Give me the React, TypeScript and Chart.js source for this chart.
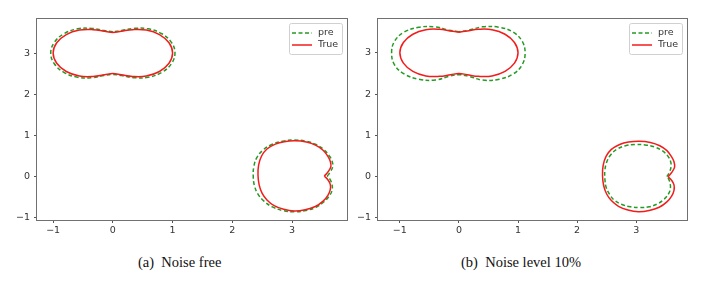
import React, { useEffect, useRef } from 'react';
import { Chart, registerables } from 'chart.js';

Chart.register(...registerables);

type Pt = [number, number];

// ---- data ----
const X_TICKS = [-1, 0, 1, 2, 3];
const Y_TICKS = [-1, 0, 1, 2, 3];
const SERIES_PRE = 'pre';
const SERIES_TRUE = 'True';
const CAPTION_A = '(a)  Noise free';
const CAPTION_B = '(b)  Noise level 10%';

// true boundary (same in both panels)
const TRUE_PEANUT: Pt[] = [
  [0.0, 3.5], [-0.14, 3.53], [-0.33, 3.57], [-0.56, 3.56], [-0.78, 3.45], [-0.94, 3.25],
  [-1.0, 3.0], [-0.94, 2.75], [-0.78, 2.55], [-0.56, 2.44], [-0.33, 2.43], [-0.14, 2.47],
  [0.0, 2.5], [0.14, 2.47], [0.33, 2.43], [0.56, 2.44], [0.78, 2.55], [0.94, 2.75],
  [1.0, 3.0], [0.94, 3.25], [0.78, 3.45], [0.56, 3.56], [0.33, 3.57], [0.14, 3.53], [0.0, 3.5],
];
const TRUE_APPLE: Pt[] = [
  [3.54, 0.0], [3.6, 0.1], [3.65, 0.23], [3.64, 0.36], [3.6, 0.48], [3.52, 0.63], [3.4, 0.75],
  [3.24, 0.83], [3.05, 0.86], [2.87, 0.84], [2.72, 0.78], [2.58, 0.66], [2.49, 0.49], [2.44, 0.27],
  [2.43, 0.02], [2.45, -0.22], [2.5, -0.42], [2.58, -0.58], [2.7, -0.72], [2.86, -0.81], [3.04, -0.85],
  [3.22, -0.82], [3.39, -0.74], [3.52, -0.61], [3.6, -0.47], [3.64, -0.33], [3.64, -0.2], [3.6, -0.09],
  [3.54, 0.0],
];

// (a) noise free reconstruction
const PRE_PEANUT_A: Pt[] = [
  [0.0, 3.52], [-0.15, 3.55], [-0.35, 3.6], [-0.59, 3.59], [-0.82, 3.47], [-0.98, 3.26],
  [-1.04, 3.0], [-0.98, 2.74], [-0.82, 2.53], [-0.59, 2.41], [-0.35, 2.4], [-0.15, 2.45],
  [0.0, 2.48], [0.15, 2.45], [0.35, 2.4], [0.59, 2.41], [0.82, 2.53], [0.98, 2.74],
  [1.04, 3.0], [0.98, 3.26], [0.82, 3.47], [0.59, 3.59], [0.35, 3.6], [0.15, 3.55], [0.0, 3.52],
];
const PRE_APPLE_A: Pt[] = [
  [3.59, 0.0], [3.64, 0.1], [3.68, 0.23], [3.67, 0.37], [3.62, 0.5], [3.53, 0.65], [3.4, 0.77],
  [3.23, 0.85], [3.04, 0.88], [2.84, 0.85], [2.66, 0.77], [2.51, 0.63], [2.41, 0.45], [2.36, 0.23],
  [2.35, 0.0], [2.37, -0.23], [2.43, -0.44], [2.53, -0.61], [2.67, -0.75], [2.85, -0.84], [3.04, -0.87],
  [3.23, -0.84], [3.4, -0.76], [3.53, -0.63], [3.62, -0.49], [3.67, -0.35], [3.67, -0.21], [3.64, -0.09],
  [3.59, 0.0],
];

// (b) 10% noise reconstruction
const PRE_PEANUT_B: Pt[] = [
  [0.0, 3.51], [-0.17, 3.55], [-0.4, 3.63], [-0.68, 3.62], [-0.93, 3.5], [-1.09, 3.28],
  [-1.14, 3.0], [-1.09, 2.71], [-0.93, 2.49], [-0.68, 2.36], [-0.4, 2.34], [-0.17, 2.43],
  [0.0, 2.47], [0.17, 2.43], [0.4, 2.34], [0.68, 2.36], [0.92, 2.49], [1.07, 2.71],
  [1.12, 3.0], [1.07, 3.28], [0.92, 3.5], [0.68, 3.62], [0.4, 3.63], [0.17, 3.55], [0.0, 3.51],
];
const PRE_APPLE_B: Pt[] = [
  [3.52, 0.0], [3.56, 0.1], [3.59, 0.24], [3.58, 0.38], [3.53, 0.51], [3.44, 0.63], [3.31, 0.72],
  [3.15, 0.77], [2.98, 0.78], [2.82, 0.75], [2.68, 0.67], [2.57, 0.53], [2.5, 0.35], [2.47, 0.15],
  [2.47, -0.05], [2.49, -0.25], [2.55, -0.43], [2.63, -0.57], [2.75, -0.67], [2.9, -0.73], [3.06, -0.75],
  [3.22, -0.73], [3.36, -0.66], [3.47, -0.55], [3.55, -0.41], [3.58, -0.27], [3.57, -0.14], [3.55, -0.06],
  [3.52, 0.0],
];

// ---- styling ----
const GREEN = '#259a25';
const RED = '#f21c1c';
const SPINE = '#707070';
const TEXT = '#333333';
const TICK_FONT = { family: 'DejaVu Sans', size: 9.5 };

const fmt = (v: number) => (v < 0 ? '\u2212' + Math.abs(v) : String(v));

const framePlugin = {
  id: 'frame',
  afterDatasetsDraw(chart: any) {
    const { ctx, chartArea: a } = chart;
    ctx.save();
    ctx.strokeStyle = SPINE;
    ctx.lineWidth = 1;
    const l = Math.round(a.left) - 0.5;
    const t = Math.round(a.top) - 0.5;
    const r = Math.round(a.right) + 0.5;
    const b = Math.round(a.bottom) + 0.5;
    ctx.strokeRect(l, t, r - l, b - t);
    ctx.restore();
  },
};

const legendPlugin = {
  id: 'mplLegend',
  afterDraw(chart: any) {
    const { ctx, chartArea: a } = chart;
    const seen: string[] = [];
    const items: any[] = [];
    chart.data.datasets.forEach((d: any) => {
      if (!seen.includes(d.label)) {
        seen.push(d.label);
        items.push(d);
      }
    });
    const w = 53;
    const h = 31;
    const x0 = Math.round(a.right) - 5 - w;
    const y0 = Math.round(a.top) + 4;
    ctx.save();
    ctx.beginPath();
    ctx.roundRect(x0 + 0.5, y0 + 0.5, w, h, 2);
    ctx.fillStyle = 'rgba(255,255,255,0.8)';
    ctx.fill();
    ctx.strokeStyle = '#d0d0d0';
    ctx.lineWidth = 1;
    ctx.stroke();
    items.forEach((d, i) => {
      const yy = y0 + 10 + i * 12;
      ctx.beginPath();
      ctx.setLineDash(d.borderDash || []);
      ctx.strokeStyle = d.borderColor;
      ctx.lineWidth = d.borderWidth;
      ctx.moveTo(x0 + 3, yy);
      ctx.lineTo(x0 + 23, yy);
      ctx.stroke();
      ctx.setLineDash([]);
      ctx.fillStyle = TEXT;
      ctx.font = '9.5px "DejaVu Sans"';
      ctx.textBaseline = 'middle';
      ctx.textAlign = 'left';
      ctx.fillText(d.label, x0 + 29, yy);
    });
    ctx.restore();
  },
};

function buildDatasets(prePeanut: Pt[], preApple: Pt[]) {
  const toXY = (pts: Pt[]) => pts.map(([x, y]) => ({ x, y }));
  const common = {
    showLine: true,
    pointRadius: 0,
    pointHoverRadius: 0,
    tension: 0.4,
    fill: false,
    backgroundColor: 'transparent',
  };
  const pre = { label: SERIES_PRE, borderColor: GREEN, borderDash: [4, 2.5], borderWidth: 1.5, order: 1 };
  const tru = { label: SERIES_TRUE, borderColor: RED, borderWidth: 1.5, order: 0 };
  return [
    { ...common, ...pre, data: toXY(prePeanut) },
    { ...common, ...pre, data: toXY(preApple) },
    { ...common, ...tru, data: toXY(TRUE_PEANUT) },
    { ...common, ...tru, data: toXY(TRUE_APPLE) },
  ];
}

type PanelProps = {
  left: number;
  width: number;
  axisW: number;
  padRight: number;
  xMin: number;
  xMax: number;
  yMin: number;
  yMax: number;
  prePeanut: Pt[];
  preApple: Pt[];
};

function Panel(p: PanelProps) {
  const ref = useRef<HTMLCanvasElement>(null);
  useEffect(() => {
    const grid = {
      display: true,
      drawOnChartArea: false,
      drawTicks: true,
      tickLength: 3,
      tickColor: '#555555',
      tickWidth: 1,
      color: 'transparent',
    };
    const chart = new Chart(ref.current as HTMLCanvasElement, {
      type: 'scatter',
      data: { datasets: buildDatasets(p.prePeanut, p.preApple) as any },
      options: {
        animation: false,
        responsive: false,
        events: [],
        layout: { padding: { left: 0, top: 19, right: p.padRight, bottom: 0 } },
        plugins: { legend: { display: false }, tooltip: { enabled: false } },
        scales: {
          x: {
            type: 'linear',
            min: p.xMin,
            max: p.xMax,
            afterBuildTicks: (s: any) => {
              s.ticks = X_TICKS.map((v) => ({ value: v }));
            },
            afterFit: (s: any) => {
              s.height = 20;
            },
            grid,
            border: { display: false },
            ticks: { font: TICK_FONT, color: TEXT, padding: 2, maxRotation: 0, autoSkip: false, callback: (v: any) => fmt(Number(v)) },
          },
          y: {
            type: 'linear',
            min: p.yMin,
            max: p.yMax,
            afterBuildTicks: (s: any) => {
              s.ticks = Y_TICKS.map((v) => ({ value: v }));
            },
            afterFit: (s: any) => {
              s.width = p.axisW;
            },
            grid,
            border: { display: false },
            ticks: { font: TICK_FONT, color: TEXT, padding: 4, autoSkip: false, callback: (v: any) => fmt(Number(v)) },
          },
        },
      } as any,
      plugins: [framePlugin, legendPlugin],
    });
    return () => chart.destroy();
  }, []);
  return (
    <canvas
      ref={ref}
      width={p.width}
      height={240}
      style={{ position: 'absolute', left: p.left, top: 0, width: p.width, height: 240, display: 'block' }}
    />
  );
}

const captionStyle: React.CSSProperties = {
  position: 'absolute',
  top: 254.5,
  fontFamily: '"Liberation Serif", "Times New Roman", serif',
  fontSize: 14.5,
  lineHeight: '14.5px',
  whiteSpace: 'pre',
  color: '#111',
};

export default function App() {
  return (
    <div style={{ position: 'absolute', left: 0, top: 0, width: 728, height: 282, background: '#fff', overflow: 'hidden' }}>
      <Panel left={0} width={364} axisW={37} padRight={17} xMin={-1.27} xMax={3.92} yMin={-1.07} yMax={3.83}
        prePeanut={PRE_PEANUT_A} preApple={PRE_APPLE_A} />
      <Panel left={334} width={394} axisW={44} padRight={41} xMin={-1.37} xMax={3.86} yMin={-1.05} yMax={3.82}
        prePeanut={PRE_PEANUT_B} preApple={PRE_APPLE_B} />
      <div style={{ ...captionStyle, left: 138 }}>{CAPTION_A}</div>
      <div style={{ ...captionStyle, left: 461 }}>{CAPTION_B}</div>
    </div>
  );
}
